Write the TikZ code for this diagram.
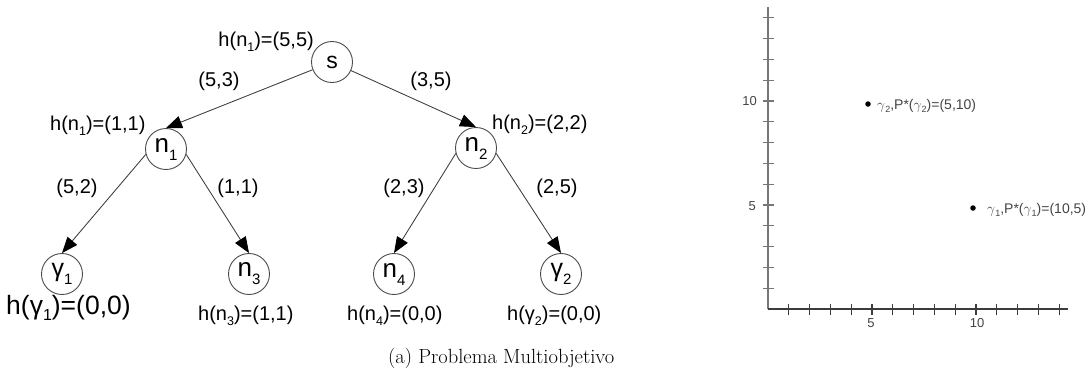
\documentclass[tikz,border=0pt]{standalone}
\usepackage{fontspec}
\newfontfamily\arial{Liberation Sans}
\usetikzlibrary{arrows.meta}
\definecolor{edgec}{HTML}{3A3A3A}
\definecolor{circc}{HTML}{4A4A4A}
\definecolor{yaxc}{HTML}{777777}
\definecolor{xaxc}{HTML}{3C3C3C}
\definecolor{tickc}{HTML}{444444}
\newcommand{\lsub}[1]{\raisebox{-5.5pt}{\fontsize{12.5}{12.5}\selectfont #1}}
\newcommand{\bsub}[1]{\raisebox{-6.5pt}{\fontsize{16}{16}\selectfont #1}}
\newcommand{\nsub}[1]{\raisebox{-8pt}{\fontsize{15}{15}\selectfont #1}}
\newcommand{\ssub}[1]{\raisebox{-3pt}{\fontsize{9}{9}\selectfont #1}}
\newcommand{\myn}{{\fontsize{26}{26}\selectfont n}}
\newcommand{\mygam}{{\fontsize{25}{25}\selectfont γ}}
\begin{document}
\begin{tikzpicture}[x=1pt,y=-1pt,
  tnode/.style={circle, draw=circc, line width=0.9pt, minimum size=41pt, inner sep=0pt,
    font=\arial\fontsize{23}{23}\selectfont},
  lbl/.style={font=\arial\fontsize{20}{20}\selectfont, inner sep=0pt},
  biglbl/.style={font=\arial\fontsize{26.5}{26.5}\selectfont, inner sep=0pt},
  arredge/.style={draw=edgec, line width=0.85pt, -{Triangle[length=16pt,width=12.5pt,color=black]}},
  yaxis/.style={draw=yaxc, line width=2pt},
  xaxis/.style={draw=xaxc, line width=1.6pt},
  tickmark/.style={line width=1.3pt},
  ticklbl/.style={font=\arial\fontsize{13}{13}\selectfont, text=tickc, inner sep=0pt},
  ptlbl/.style={font=\arial\fontsize{14}{14}\selectfont, text=tickc, inner sep=0pt},
  ptdot/.style={circle, fill=black, inner sep=0pt, minimum size=5.5pt},
  captext/.style={font=\fontsize{20.5}{24}\selectfont, inner sep=0pt}]
\useasboundingbox (0,0) rectangle (1088,376);
% tree nodes
\node[tnode] (s)  at (332,62)  {s};
\node[tnode] (n1) at (166,149) {\myn\nsub{1}};
\node[tnode] (n2) at (476,148) {\myn\nsub{2}};
\node[tnode] (g1) at (62,274)  {\mygam\nsub{1}};
\node[tnode] (n3) at (249,274) {\myn\nsub{3}};
\node[tnode] (n4) at (394,274) {\myn\nsub{4}};
\node[tnode] (g2) at (561,274) {\mygam\nsub{2}};
% edges
\draw[arredge] (s) -- (n1.north);
\draw[arredge] (s) -- (n2.north);
\draw[arredge] (n1.195) -- (g1.north);
\draw[arredge] (n1.-15) -- (n3.north);
\draw[arredge] (n2.195) -- (n4.north);
\draw[arredge] (n2.-15) -- (g2.north);
% labels
\node[lbl, anchor=base east] (hs) at (314,46) {h(n\lsub{1})=(5,5)};
\node[lbl, anchor=base] (e1) at (219,86) {(5,3)};
\node[lbl, anchor=base] (e2) at (431,86) {(3,5)};
\node[lbl, anchor=base west] (hn1) at (50,130) {h(n\lsub{1})=(1,1)};
\node[lbl, anchor=base west] (hn2) at (492,129) {h(n\lsub{2})=(2,2)};
\node[lbl, anchor=base] (e3) at (77,193) {(5,2)};
\node[lbl, anchor=base] (e4) at (238,193) {(1,1)};
\node[lbl, anchor=base] (e5) at (404,193) {(2,3)};
\node[lbl, anchor=base] (e6) at (557,193) {(2,5)};
\node[biglbl, anchor=base west] (hg1) at (6,314) {h(γ\bsub{1})=(0,0)};
\node[lbl, anchor=base west] (hn3) at (198,320) {h(n\lsub{3})=(1,1)};
\node[lbl, anchor=base west] (hn4) at (347,320) {h(n\lsub{4})=(0,0)};
\node[lbl, anchor=base west] (hg2) at (507,320) {h(γ\lsub{2})=(0,0)};
% caption
\node[captext, anchor=base west] (caption) at (388,363) {(a) Problema Multiobjetivo};
% axes
\coordinate (O) at (768,309);
\coordinate (Ytop) at (768,7);
\coordinate (Xend) at (1068,309);
\draw[yaxis] (O) -- (Ytop);
\draw[xaxis] (O) -- (Xend);
\foreach \i in {1,...,14}{
  \draw[tickmark, draw=yaxc] (763,{309-20.8*\i}) -- (774,{309-20.8*\i});
  \draw[tickmark, draw=xaxc] ({768+20.8*\i},304) -- ({768+20.8*\i},315);
}
\node[ticklbl, anchor=east] (y10) at (757,101) {10};
\node[ticklbl, anchor=east] (y5) at (756,206) {5};
\node[ticklbl] (x5) at (871,323) {5};
\node[ticklbl] (x10) at (977,323) {10};
% points
\node[ptdot] (p2) at (868,104) {};
\node[ptdot] (p1) at (973,208) {};
\node[ptlbl, anchor=base west] (lp2) at (877,109) {$\gamma$\ssub{2},P*($\gamma$\ssub{2})=(5,10)};
\node[ptlbl, anchor=base west] (lp1) at (987,213) {$\gamma$\ssub{1},P*($\gamma$\ssub{1})=(10,5)};
\end{tikzpicture}
\end{document}
